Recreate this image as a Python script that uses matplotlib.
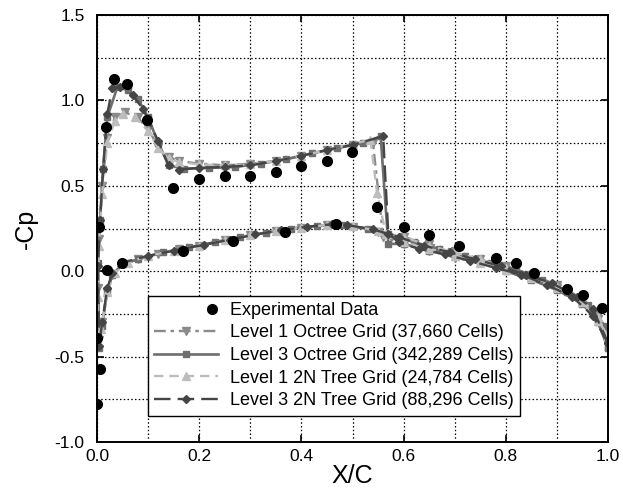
import numpy as np
import matplotlib.pyplot as plt
from matplotlib.legend_handler import HandlerLine2D

plt.rcParams['font.family'] = ['Liberation Sans', 'DejaVu Sans']

# Experimental data (symbols only)
x_exp = [0.003, 0.018, 0.033, 0.059, 0.098, 0.149, 0.200, 0.250, 0.300, 0.350,
         0.400, 0.450, 0.499, 0.548, 0.600, 0.650, 0.708, 0.780, 0.820, 0.855,
         0.920, 0.951, 0.988,
         0.000, 0.006, 0.000, 0.020, 0.049, 0.168, 0.266, 0.367, 0.467]
cp_exp = [0.26, 0.845, 1.125, 1.095, 0.885, 0.49, 0.54, 0.56, 0.556, 0.58,
          0.615, 0.645, 0.70, 0.375, 0.26, 0.21, 0.15, 0.08, 0.047, -0.01,
          -0.105, -0.14, -0.215,
          -0.39, -0.57, -0.78, 0.01, 0.05, 0.12, 0.176, 0.23, 0.275]

# Level 1 Octree Grid (37,660 cells): upper TE -> LE -> lower TE
x_l1oct = [1.0, 0.98, 0.95, 0.90, 0.85, 0.80, 0.75, 0.70, 0.65, 0.60, 0.56,
           0.54, 0.50, 0.45, 0.40, 0.35, 0.30, 0.25, 0.20, 0.16, 0.14, 0.12,
           0.10, 0.08, 0.055, 0.035, 0.02, 0.01, 0.004, 0.001, 0.003,
           0.01, 0.02, 0.03, 0.05, 0.08, 0.12, 0.16, 0.20, 0.25, 0.30, 0.35,
           0.40, 0.45, 0.50, 0.55, 0.60, 0.65, 0.70, 0.75, 0.80, 0.85, 0.90,
           0.95, 0.98, 1.0]
cp_l1oct = [-0.36, -0.28, -0.18, -0.1, -0.04, 0.01, 0.05, 0.08, 0.12, 0.16, 0.2,
            0.75, 0.74, 0.71, 0.675, 0.645, 0.63, 0.62, 0.63, 0.645, 0.67, 0.73,
            0.83, 0.9, 0.93, 0.9, 0.78, 0.5, 0.19, -0.1, -0.4,
            -0.3, -0.12, -0.02, 0.04, 0.07, 0.1, 0.13, 0.15, 0.18, 0.21, 0.235,
            0.255, 0.27, 0.26, 0.23, 0.2, 0.16, 0.12, 0.07, 0.03, -0.02, -0.08,
            -0.16, -0.25, -0.36]

# Level 3 Octree Grid (342,289 cells)
x_l3oct = [1.0, 0.98, 0.95, 0.90, 0.85, 0.80, 0.75, 0.70, 0.65, 0.60, 0.57,
           0.555, 0.52, 0.47, 0.42, 0.37, 0.32, 0.27, 0.22, 0.17, 0.14, 0.12,
           0.10, 0.08, 0.06, 0.04, 0.02, 0.012, 0.006, 0.002, 0.004,
           0.01, 0.02, 0.03, 0.05, 0.08, 0.13, 0.18, 0.23, 0.28, 0.33, 0.38,
           0.43, 0.48, 0.53, 0.57, 0.62, 0.67, 0.72, 0.77, 0.82, 0.87, 0.92,
           0.96, 0.99, 1.0]
cp_l3oct = [-0.45, -0.3, -0.19, -0.11, -0.05, 0.0, 0.05, 0.09, 0.12, 0.16, 0.16,
            0.79, 0.75, 0.72, 0.69, 0.655, 0.63, 0.61, 0.605, 0.6, 0.62, 0.75,
            0.9, 1.01, 1.06, 1.08, 0.9, 0.6, 0.3, 0.05, -0.45,
            -0.32, -0.12, -0.02, 0.04, 0.07, 0.11, 0.14, 0.17, 0.2, 0.225, 0.25,
            0.265, 0.27, 0.25, 0.22, 0.17, 0.13, 0.09, 0.05, 0.01, -0.05, -0.12,
            -0.2, -0.32, -0.45]

# Level 1 2N Tree Grid (24,784 cells)
x_l12n = [1.0, 0.98, 0.95, 0.90, 0.85, 0.80, 0.75, 0.70, 0.65, 0.60, 0.565,
          0.548, 0.535, 0.50, 0.45, 0.40, 0.35, 0.30, 0.25, 0.20, 0.16, 0.14,
          0.12, 0.10, 0.075, 0.05, 0.035, 0.02, 0.01, 0.004, 0.001, 0.002,
          0.008, 0.02, 0.035, 0.06, 0.10, 0.15, 0.20, 0.25, 0.30, 0.35, 0.40,
          0.45, 0.50, 0.55, 0.60, 0.65, 0.70, 0.75, 0.80, 0.85, 0.90, 0.95,
          0.98, 1.0]
cp_l12n = [-0.38, -0.29, -0.18, -0.1, -0.04, 0.01, 0.05, 0.09, 0.13, 0.17, 0.22,
           0.46, 0.77, 0.745, 0.71, 0.675, 0.645, 0.625, 0.62, 0.625, 0.64, 0.66,
           0.72, 0.82, 0.9, 0.92, 0.88, 0.75, 0.45, 0.15, -0.15, -0.42,
           -0.34, -0.12, -0.01, 0.05, 0.09, 0.12, 0.15, 0.18, 0.21, 0.235, 0.255,
           0.27, 0.265, 0.235, 0.2, 0.15, 0.11, 0.07, 0.02, -0.03, -0.09, -0.17,
           -0.27, -0.4]

# Level 3 2N Tree Grid (88,296 cells)
x_l32n = [1.0, 0.97, 0.93, 0.88, 0.83, 0.78, 0.73, 0.68, 0.63, 0.59, 0.57,
          0.56, 0.50, 0.45, 0.40, 0.35, 0.30, 0.25, 0.20, 0.16, 0.14, 0.12,
          0.09, 0.07, 0.045, 0.03, 0.02, 0.012, 0.006, 0.002, 0.004,
          0.01, 0.02, 0.03, 0.05, 0.10, 0.15, 0.21, 0.26, 0.31, 0.36, 0.41,
          0.46, 0.49, 0.54, 0.59, 0.64, 0.69, 0.74, 0.79, 0.84, 0.89, 0.94,
          0.97, 1.0]
cp_l32n = [-0.42, -0.26, -0.15, -0.08, -0.02, 0.02, 0.06, 0.1, 0.13, 0.17, 0.22,
           0.79, 0.74, 0.71, 0.675, 0.645, 0.62, 0.61, 0.605, 0.595, 0.62, 0.76,
           0.95, 1.03, 1.08, 1.07, 0.92, 0.6, 0.3, 0.03, -0.44,
           -0.3, -0.1, -0.01, 0.05, 0.09, 0.12, 0.155, 0.185, 0.215, 0.24, 0.26,
           0.275, 0.27, 0.245, 0.2, 0.15, 0.11, 0.07, 0.03, -0.02, -0.07, -0.15,
           -0.22, -0.42]

labels = ['Experimental Data',
          'Level 1 Octree Grid (37,660 Cells)',
          'Level 3 Octree Grid (342,289 Cells)',
          'Level 1 2N Tree Grid (24,784 Cells)',
          'Level 3 2N Tree Grid (88,296 Cells)']

fig = plt.figure(figsize=(6.23, 4.93), dpi=100)
ax = fig.add_axes([0.1557, 0.1034, 0.8203, 0.8662])

# computed curves
l1, = ax.plot(x_l1oct, cp_l1oct, color='#8a8a8a', ls=(0, (5, 2, 1.5, 2)), lw=1.7,
              marker='v', ms=5.5, label=labels[1])
l2, = ax.plot(x_l3oct, cp_l3oct, color='#6e6e6e', ls='-', lw=1.9,
              marker='s', ms=5, label=labels[2])
l3, = ax.plot(x_l12n, cp_l12n, color='#bdbdbd', ls=(0, (4, 2.5)), lw=1.7,
              marker='^', ms=5.5, label=labels[3])
l4, = ax.plot(x_l32n, cp_l32n, color='#454545', ls=(0, (7, 3)), lw=1.7,
              marker='D', ms=4.5, label=labels[4])
# experiment
le, = ax.plot(x_exp, cp_exp, ls='none', marker='o', ms=7, color='black',
              label=labels[0], zorder=5)

ax.set_xlim(0, 1)
ax.set_ylim(-1, 1.5)
ax.set_xticks(np.arange(0, 1.01, 0.2))
ax.set_xticks(np.arange(0, 1.01, 0.1), minor=True)
ax.set_yticks(np.arange(-1, 1.51, 0.5))
ax.set_yticks(np.arange(-1, 1.51, 0.25), minor=True)
ax.xaxis.set_major_formatter(plt.FormatStrFormatter('%.1f'))
ax.yaxis.set_major_formatter(plt.FormatStrFormatter('%.1f'))
ax.grid(True, which='both', color='black', ls=(0, (1.2, 1.8)), lw=0.9)
ax.tick_params(which='both', direction='in', top=True, right=True, labelsize=12.5)
ax.tick_params(which='major', length=5, width=1.2)
ax.tick_params(which='minor', length=0)
ax.tick_params(axis='y', pad=9)
ax.tick_params(axis='x', pad=5)
for s in ax.spines.values():
    s.set_linewidth(1.4)

ax.set_xlabel('X/C', fontsize=18, labelpad=0)
ax.set_ylabel('-Cp', fontsize=18, labelpad=12)


class RightMarker(HandlerLine2D):
    # single marker at right end of the handle
    def create_artists(self, *args, **kwargs):
        artists = super().create_artists(*args, **kwargs)
        artists[0].set_markevery([1])
        return artists


leg = ax.legend([le, l1, l2, l3, l4], labels, loc='lower left',
                bbox_to_anchor=(0.1, 0.062), borderaxespad=0, fontsize=13,
                fancybox=False, framealpha=1, edgecolor='black', handlelength=3.5,
                handletextpad=0.7, labelspacing=0.31, borderpad=0.35,
                handler_map={le: RightMarker(numpoints=2)})
leg.get_frame().set_linewidth(1.0)

fig.savefig('out.png', dpi=100)
